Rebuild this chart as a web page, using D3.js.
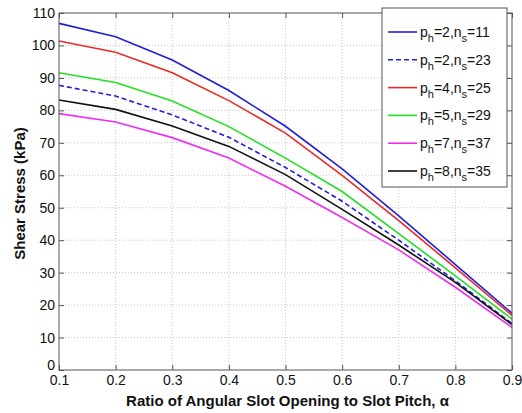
<!DOCTYPE html>
<html>
<head>
  <meta charset="UTF-8">
  <title>Shear Stress vs Slot Opening Ratio</title>
  <style>
    body {
      margin: 0;
      padding: 0;
      background: #fff;
      font-family: Arial, "Liberation Sans", sans-serif;
    }
    svg {
      display: block;
    }
    .grid line {
      stroke: #b8b8b8;
      stroke-width: 0.8;
      stroke-dasharray: 1,2;
    }
    .tick-label {
      font-size: 14px;
      fill: #111;
    }
    .axis-title {
      font-size: 15px;
      font-weight: bold;
      fill: #111;
    }
  </style>
</head>
<body>
  <svg></svg>

  <script src="https://d3js.org/d3.v7.min.js"></script>
  <script>
    let width = 522, height = 413;

    // ratio of angular slot opening to slot pitch
    let alpha = [0.1, 0.2, 0.3, 0.4, 0.5, 0.6, 0.7, 0.8, 0.9];

    // shear stress (kPa)
    let s_2_11 = [106.8, 102.7, 95.5, 86.1, 75.1, 62.0, 47.5, 32.5, 17.5];
    let s_2_23 = [87.7, 84.4, 78.6, 71.7, 62.4, 52.0, 40.0, 27.5, 14.3];
    let s_4_25 = [101.4, 97.9, 91.6, 83.0, 73.0, 60.0, 46.0, 31.5, 16.8];
    let s_5_29 = [91.6, 88.6, 82.9, 75.0, 65.3, 55.0, 42.0, 29.0, 15.7];
    let s_7_37 = [79.0, 76.4, 71.6, 65.3, 56.6, 47.0, 37.0, 25.5, 13.1];
    let s_8_35 = [83.2, 80.3, 75.2, 68.9, 60.2, 49.5, 38.5, 27.0, 14.0];

    let ph = [2, 2, 4, 5, 7, 8];
    let ns = [11, 23, 25, 29, 37, 35];

    let xTicks = [0.1, 0.2, 0.3, 0.4, 0.5, 0.6, 0.7, 0.8, 0.9];
    let yTicks = [0, 10, 20, 30, 40, 50, 60, 70, 80, 90, 100, 110];

    let series = [
      {vals: s_2_11, color: "#1f1fd8", dash: null},
      {vals: s_2_23, color: "#1f1fd8", dash: "5,3"},
      {vals: s_4_25, color: "#e82a2a", dash: null},
      {vals: s_5_29, color: "#22e022", dash: null},
      {vals: s_7_37, color: "#f02ef0", dash: null},
      {vals: s_8_35, color: "#111111", dash: null}
    ];

    let margin = {left: 59, right: 10, top: 13, bottom: 43};
    let pw = width - margin.left - margin.right;
    let ph_ = height - margin.top - margin.bottom;

    let svg = d3.select("svg")
        .attr("width", width)
        .attr("height", height);

    let g = svg.append("g")
        .attr("transform", "translate(" + margin.left + "," + margin.top + ")");

    let x = d3.scaleLinear().domain([0.1, 0.9]).range([0, pw]);
    let y = d3.scaleLinear().domain([0, 110]).range([ph_, 0]);

    // grid
    let grid = g.append("g").attr("class", "grid");
    grid.selectAll(".vg")
        .data(xTicks.slice(1, -1))
        .enter().append("line")
        .attr("x1", d => x(d)).attr("x2", d => x(d))
        .attr("y1", 0).attr("y2", ph_);
    grid.selectAll(".hg")
        .data(yTicks.slice(1, -1))
        .enter().append("line")
        .attr("x1", 0).attr("x2", pw)
        .attr("y1", d => y(d)).attr("y2", d => y(d));

    // lines
    let line = d3.line()
        .x((d, i) => x(alpha[i]))
        .y(d => y(d));

    g.append("g")
        .selectAll("path")
        .data(series)
        .enter()
        .append("path")
        .attr("d", d => line(d.vals))
        .attr("fill", "none")
        .attr("stroke", d => d.color)
        .attr("stroke-width", 1.6)
        .attr("stroke-dasharray", d => d.dash);

    // axes: box with inward ticks on all sides
    let tickLen = 5;
    let axisColor = "#555";

    let ax = g.append("g").attr("fill", "none").attr("stroke", axisColor).attr("stroke-width", 1);
    ax.append("rect").attr("x", 0).attr("y", 0).attr("width", pw).attr("height", ph_);

    let axB = g.append("g").attr("transform", "translate(0," + ph_ + ")")
        .call(d3.axisBottom(x).tickValues(xTicks).tickSizeInner(-tickLen).tickSizeOuter(0).tickPadding(5).tickFormat(d3.format(".1f")));
    let axT = g.append("g")
        .call(d3.axisTop(x).tickValues(xTicks).tickSizeInner(-tickLen).tickSizeOuter(0).tickFormat(""));
    let axL = g.append("g")
        .call(d3.axisLeft(y).tickValues(yTicks).tickSizeInner(-tickLen).tickSizeOuter(0).tickPadding(4));
    let axR = g.append("g").attr("transform", "translate(" + pw + ",0)")
        .call(d3.axisRight(y).tickValues(yTicks).tickSizeInner(-tickLen).tickSizeOuter(0).tickFormat(""));

    [axB, axT, axL, axR].forEach(a => {
      a.select(".domain").remove();
      a.selectAll(".tick line").attr("stroke", axisColor);
      a.selectAll("text").attr("class", "tick-label").attr("font-family", null).attr("font-size", null);
    });

    // the "0" sits just above the first x label, nudge it so they only touch
    axL.selectAll(".tick").filter(d => d === 0).select("text").attr("dy", "-0.05em");

    // axis titles
    svg.append("text")
        .attr("class", "axis-title")
        .attr("x", margin.left + pw / 2 + 2)
        .attr("y", 406)
        .attr("text-anchor", "middle")
        .text("Ratio of Angular Slot Opening to Slot Pitch, \u03b1");

    svg.append("text")
        .attr("class", "axis-title")
        .attr("transform", "translate(25," + (margin.top + y(55) + 2) + ") rotate(-90)")
        .attr("text-anchor", "middle")
        .text("Shear Stress (kPa)");

    // legend
    let lg = svg.append("g").attr("transform", "translate(382,8)");
    lg.append("rect")
        .attr("width", 125).attr("height", 179)
        .attr("fill", "#fff")
        .attr("stroke", "#555")
        .attr("stroke-width", 1);

    let rows = lg.selectAll(".row")
        .data(series)
        .enter().append("g")
        .attr("transform", (d, i) => "translate(0," + (24 + i * 27.8) + ")");

    rows.append("line")
        .attr("x1", 6).attr("x2", 35)
        .attr("y1", 0).attr("y2", 0)
        .attr("stroke", d => d.color)
        .attr("stroke-width", 1.6)
        .attr("stroke-dasharray", d => d.dash);

    let lt = rows.append("text")
        .attr("x", 38)
        .attr("y", 5)
        .attr("class", "tick-label");

    lt.append("tspan").text("p");
    lt.append("tspan").attr("dy", 5).attr("font-size", 11).text("h");
    lt.append("tspan").attr("dy", -5).text((d, i) => "=" + ph[i] + ",n");
    lt.append("tspan").attr("dy", 5).attr("font-size", 11).text("s");
    lt.append("tspan").attr("dy", -5).text((d, i) => "=" + ns[i]);
  </script>
</body>
</html>
